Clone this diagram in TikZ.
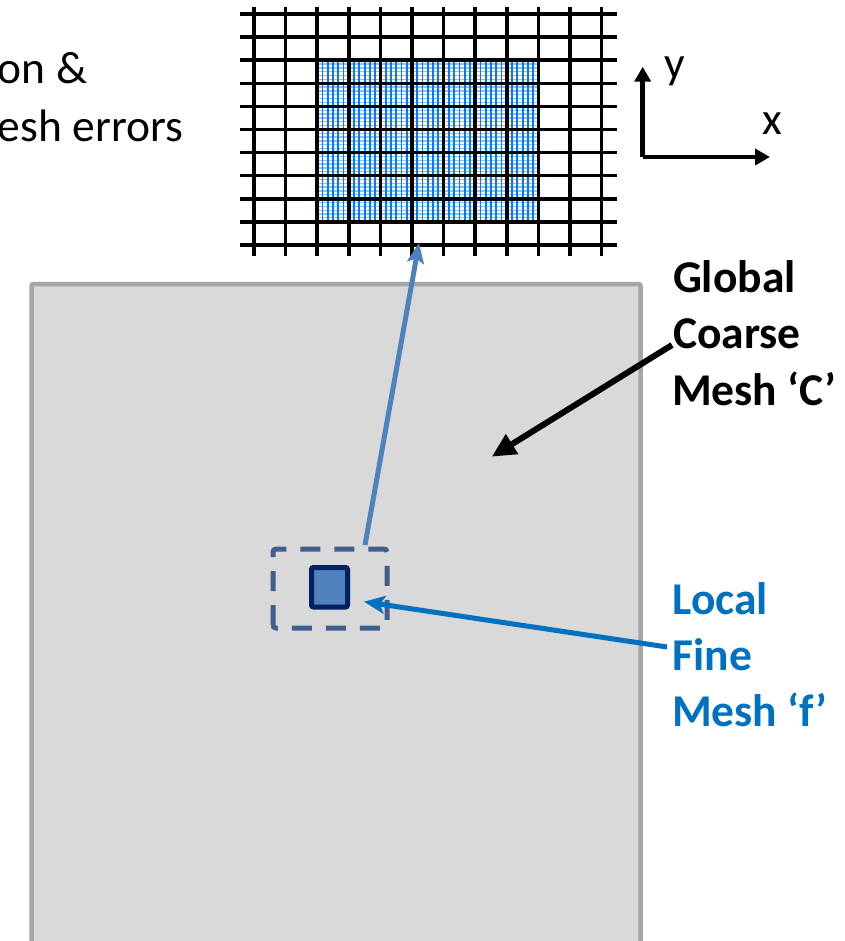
\documentclass[tikz,border=0pt]{standalone}
\usepackage{fontspec}
\setmainfont{Carlito}
\usetikzlibrary{arrows.meta}
\definecolor{boxgray}{HTML}{D9D9D9}
\definecolor{boxedge}{HTML}{A6A6A6}
\definecolor{officeblue}{HTML}{0070C0}
\definecolor{steelblue}{HTML}{4F81BD}
\definecolor{navy}{HTML}{002060}
\definecolor{dashblue}{HTML}{3F5F8F}
\definecolor{finev}{RGB}{0,120,255}
\definecolor{fineh}{RGB}{140,195,255}
\tikzset{
  lbl/.style={anchor=base west, inner sep=0pt, outer sep=0pt, font=\fontsize{45.5}{54}\selectfont},
  boldlbl/.style={lbl, font=\fontsize{45.5}{54}\selectfont\bfseries},
  coarseline/.style={line width=3.5pt, black},
  finevline/.style={line width=1.8pt, finev},
  finehline/.style={line width=1.3pt, fineh},
  axisline/.style={line width=4.5pt, black, -{Triangle[length=15pt,width=16pt]}},
}
\begin{document}
\begin{tikzpicture}[x=1pt,y=-1pt]
\useasboundingbox (0,0) rectangle (844,941);
\clip (0,0) rectangle (844,941);
\fill[white] (0,0) rectangle (844,941);

% global coarse domain
\draw[fill=boxgray, draw=boxedge, line width=4.5pt, rounded corners=2pt] (31.5,284) rectangle (640.5,980);

% fine mesh region
\foreach \j in {0,...,42} {
  \draw[finehline] (317.2,{60.2+\j*23.07/6}) -- (538.4,{60.2+\j*23.07/6});
}
\foreach \i in {0,...,42} {
  \draw[finevline] ({317.2+\i*31.6/6},60.2) -- ({317.2+\i*31.6/6},221.7);
}
% coarse grid
\foreach \i in {0,...,11} {
  \draw[coarseline] ({254+\i*31.6},7) -- ({254+\i*31.6},256);
}
\foreach \j in {0,...,10} {
  \draw[coarseline] (240,{14+\j*23.1}) -- (617,{14+\j*23.1});
}

% axes
\coordinate (origin) at (642.7,157);
\coordinate (ytip) at (642.7,66.7);
\coordinate (xtip) at (770,157);
\draw[axisline] (origin) -- (ytip);
\draw[axisline] (origin) -- (xtip);
\node[lbl] (ylab) at (664,79) {y};
\node[lbl] (xlab) at (762,135) {x};

% zoom window and fine patch
\draw[dashblue, line width=5pt, dash pattern=on 20pt off 14pt, rounded corners=3pt]
  (273,628) -- (273,549) -- (387,549) -- (387,628) -- cycle;
\draw[fill=steelblue, draw=navy, line width=5pt, rounded corners=2pt] (311.5,567.5) rectangle (347.5,607);

% texts
\node[lbl] (t1) at (-2,83.3) {on \&};
\node[lbl] (t2) at (-2,141.7) {esh errors};
\node[boldlbl] (g1) at (673,292) {Global};
\node[boldlbl] (g2) at (673,348) {Coarse};
\node[boldlbl] (g3) at (672,405) {Mesh ‘C’};
\node[boldlbl, text=officeblue] (l1) at (672.5,614.3) {Local};
\node[boldlbl, text=officeblue] (l2) at (672.5,670) {Fine};
\node[boldlbl, text=officeblue] (l3) at (672,726.7) {Mesh ‘f’};

% connectors
\coordinate (cstart) at (672,345);
\coordinate (ctip) at (491.7,456.7);
\draw[line width=6pt, black, -{Triangle[length=24pt,width=22pt]}] (cstart) -- (ctip);

\coordinate (fstart) at (667,647);
\coordinate (ftip) at (364,601.7);
\draw[line width=5pt, officeblue, -{Stealth[length=21pt,width=18pt,inset=5pt]}] (fstart) -- (ftip);

\coordinate (zstart) at (365,545);
\coordinate (ztip) at (419,243);
\draw[line width=5pt, steelblue, -{Stealth[length=20pt,width=17pt,inset=4pt]}] (zstart) -- (ztip);
\end{tikzpicture}
\end{document}
